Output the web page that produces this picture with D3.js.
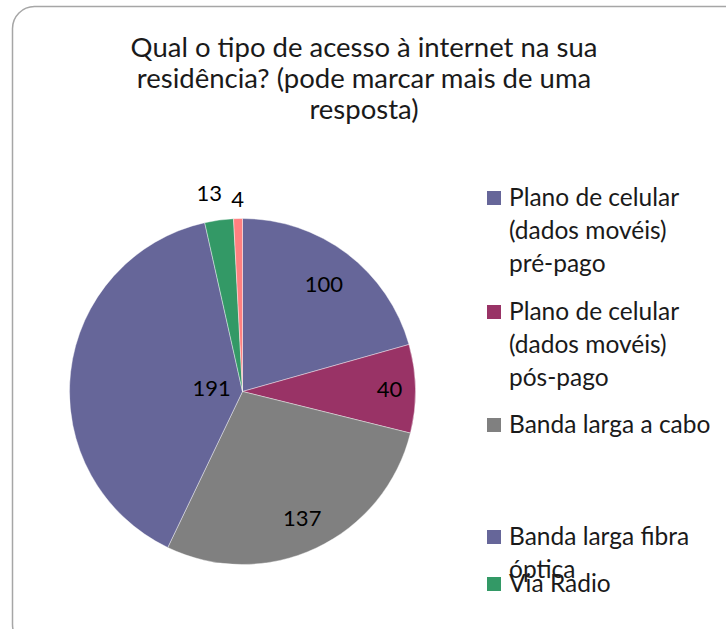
<!DOCTYPE html>
<html>
<head>
  <meta charset="utf-8">
  <title>Tipo de acesso à internet</title>
  <script src="https://d3js.org/d3.v7.min.js"></script>
  <style>
    body { margin: 0; background: #fff; }
    svg { display: block; }
    text { font-family: Lato, "Open Sans", sans-serif; fill: #1a1a1a; }
    .title { font-size: 27.5px; }
    .label { font-size: 22px; fill: #000; }
    .legend text { font-size: 24.5px; }
  </style>
</head>
<body>
  <svg width="726" height="629"></svg>

  <script>
    // dados
    var categories = [
      "Plano de celular (dados movéis) pré-pago",
      "Plano de celular (dados movéis) pós-pago",
      "Banda larga a cabo",
      "Banda larga fibra óptica",
      "Via Radio",
      "Outro"
    ];
    var values = [100, 40, 137, 191, 13, 4];
    var colors = ["#666699", "#993366", "#808080", "#666699", "#339966", "#ff8080"];
    var titleLines = [
      "Qual o tipo de acesso à internet na sua",
      "residência? (pode marcar mais de uma",
      "resposta)"
    ];
    // linhas de texto da legenda (só cabem 5 itens)
    var legendLines = [
      ["Plano de celular", "(dados movéis)", "pré-pago"],
      ["Plano de celular", "(dados movéis)", "pós-pago"],
      ["Banda larga a cabo"],
      ["Banda larga fibra", "óptica"],
      ["Via Radio"]
    ];

    var svg = d3.select("svg");

    // moldura
    svg.append("rect")
      .attr("x", 12.5)
      .attr("y", 6.5)
      .attr("width", 740)
      .attr("height", 640)
      .attr("rx", 22)
      .attr("fill", "none")
      .attr("stroke", "#a6a6a6")
      .attr("stroke-width", 1.5);

    // título
    svg.append("text")
      .attr("class", "title")
      .attr("text-anchor", "middle")
      .selectAll("tspan")
      .data(titleLines)
      .enter()
      .append("tspan")
      .attr("x", 364)
      .attr("y", function(d, i) { return 57 + i * 31; })
      .text(function(d) { return d; });

    // pizza
    var cx = 242.5, cy = 391.5, radius = 173;
    var pie = d3.pie().sort(null).value(function(d) { return d; });
    var arc = d3.arc().innerRadius(0).outerRadius(radius);
    var arcs = pie(values);

    var g = svg.append("g")
      .attr("transform", "translate(" + cx + "," + cy + ")");

    g.selectAll("path")
      .data(arcs)
      .enter()
      .append("path")
      .attr("d", arc)
      .attr("fill", function(d, i) { return colors[i]; })
      .attr("stroke", "#ffffff")
      .attr("stroke-opacity", 0.5)
      .attr("stroke-width", 0.8);

    // rótulos (posição radial ajustada como no original)
    var labelRadius = [0.78, 0.85, 0.81, 0.18, 1.16, 1.11];
    g.selectAll("text.label")
      .data(arcs)
      .enter()
      .append("text")
      .attr("class", "label")
      .attr("text-anchor", "middle")
      .attr("dy", "0.35em")
      .attr("transform", function(d, i) {
        var a = (d.startAngle + d.endAngle) / 2;
        var r = radius * labelRadius[i];
        if (i === 4) a -= 0.03;
        return "translate(" + (Math.sin(a) * r) + "," + (-Math.cos(a) * r) + ")";
      })
      .text(function(d) { return d.data; });

    // legenda
    var legendY = [198, 312, 425, 537, 584];
    var legend = svg.append("g").attr("class", "legend");
    var items = legend.selectAll("g")
      .data(legendLines)
      .enter()
      .append("g")
      .attr("transform", function(d, i) { return "translate(487," + legendY[i] + ")"; });

    items.append("rect")
      .attr("x", 0)
      .attr("y", -7)
      .attr("width", 14)
      .attr("height", 14)
      .attr("fill", function(d, i) { return colors[i]; });

    items.append("text")
      .selectAll("tspan")
      .data(function(d) { return d; })
      .enter()
      .append("tspan")
      .attr("x", 22)
      .attr("y", function(d, i) { return 8 + i * 33; })
      .text(function(d) { return d; });
  </script>
</body>
</html>
